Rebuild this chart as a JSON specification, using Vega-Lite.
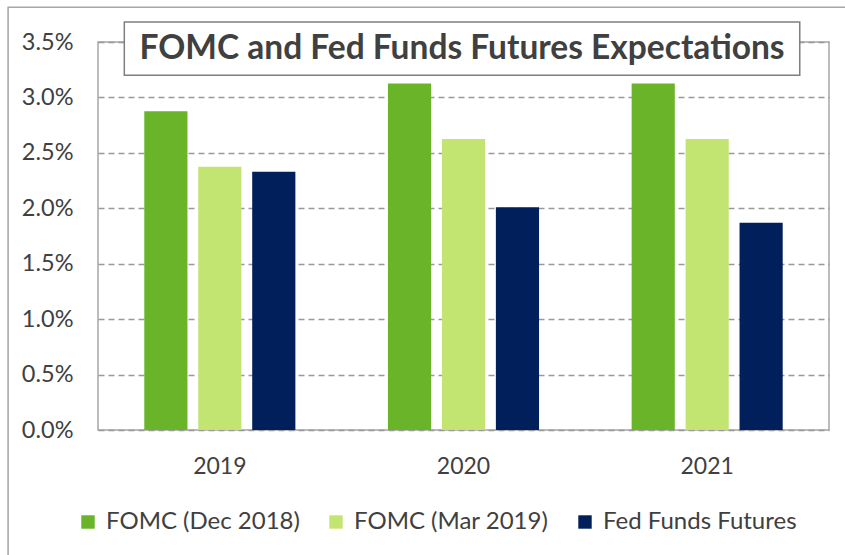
{
  "$schema": "https://vega.github.io/schema/vega-lite/v6.json",
  "width": 731,
  "height": 388,
  "autosize": "none",
  "padding": {"left": 98, "top": 42, "right": 16, "bottom": 125},
  "background": "white",
  "config": {
    "font": "Lato",
    "view": {"stroke": "#a6a6a6", "strokeWidth": 1.5}
  },
  "datasets": {
    "rates": [
      {"year": "2019", "series": "FOMC (Dec 2018)", "rate": 2.875},
      {"year": "2019", "series": "FOMC (Mar 2019)", "rate": 2.375},
      {"year": "2019", "series": "Fed Funds Futures", "rate": 2.33},
      {"year": "2020", "series": "FOMC (Dec 2018)", "rate": 3.125},
      {"year": "2020", "series": "FOMC (Mar 2019)", "rate": 2.625},
      {"year": "2020", "series": "Fed Funds Futures", "rate": 2.01},
      {"year": "2021", "series": "FOMC (Dec 2018)", "rate": 3.125},
      {"year": "2021", "series": "FOMC (Mar 2019)", "rate": 2.625},
      {"year": "2021", "series": "Fed Funds Futures", "rate": 1.87}
    ],
    "titleRow": [{"title": "FOMC and Fed Funds Futures Expectations"}]
  },
  "layer": [
    {
      "data": {"name": "rates"},
      "mark": {"type": "bar"},
      "encoding": {
        "x": {
          "field": "year",
          "type": "nominal",
          "scale": {"paddingInner": 0.38, "paddingOuter": 0.19},
          "axis": {
            "title": null,
            "labelAngle": 0,
            "ticks": false,
            "domain": false,
            "grid": false,
            "labelFontSize": 23,
            "labelColor": "#404040",
            "labelPadding": 25
          }
        },
        "xOffset": {
          "field": "series",
          "type": "nominal",
          "sort": ["FOMC (Dec 2018)", "FOMC (Mar 2019)", "Fed Funds Futures"],
          "scale": {"paddingInner": 0.2, "paddingOuter": 0}
        },
        "y": {
          "field": "rate",
          "type": "quantitative",
          "scale": {"domain": [0, 3.5], "nice": false},
          "axis": {
            "title": null,
            "values": [0, 0.5, 1, 1.5, 2, 2.5, 3, 3.5],
            "labelExpr": "format(datum.value, '.1f') + '%'",
            "ticks": false,
            "domain": false,
            "labelFontSize": 23.5,
            "labelColor": "#404040",
            "labelPadding": 25,
            "gridColor": "#999999",
            "gridDash": [6, 4],
            "gridWidth": 1.5
          }
        },
        "color": {
          "field": "series",
          "type": "nominal",
          "scale": {
            "domain": ["FOMC (Dec 2018)", "FOMC (Mar 2019)", "Fed Funds Futures"],
            "range": ["#6AB42A", "#C2E572", "#001F5B"]
          },
          "legend": {
            "title": null,
            "orient": "none",
            "direction": "horizontal",
            "legendX": -22,
            "legendY": 468,
            "symbolType": "square",
            "symbolSize": 180,
            "symbolStrokeWidth": 0,
            "labelFontSize": 24,
            "labelLimit": 400,
            "labelColor": "#404040",
            "labelOffset": 6,
            "columnPadding": 24
          }
        }
      }
    },
    {
      "data": {"name": "titleRow"},
      "layer": [
        {
          "mark": {"type": "rect", "fill": null, "stroke": "#a6a6a6", "strokeWidth": 1.5},
          "encoding": {
            "x": {"datum": -0.123, "type": "quantitative", "scale": {"domain": [0, 1], "nice": false, "zero": false}, "axis": null},
            "x2": {"datum": 1.2},
            "y": {"datum": 3.814, "type": "quantitative"},
            "y2": {"datum": -2}
          }
        },
        {
          "mark": {"type": "rect", "fill": "white", "stroke": "#7f7f7f", "strokeWidth": 1.5},
          "encoding": {
            "x": {"datum": 0.036, "type": "quantitative", "scale": {"domain": [0, 1], "nice": false, "zero": false}, "axis": null},
            "x2": {"datum": 0.96},
            "y": {"datum": 3.68, "type": "quantitative"},
            "y2": {"datum": 3.2}
          }
        },
        {
          "mark": {"type": "text", "fontSize": 33.5, "fontWeight": "bold", "color": "#404040", "baseline": "middle", "align": "center"},
          "encoding": {
            "x": {"datum": 0.498, "type": "quantitative", "scale": {"domain": [0, 1], "nice": false, "zero": false}, "axis": null},
            "y": {"datum": 3.44, "type": "quantitative"},
            "text": {"field": "title"}
          }
        }
      ]
    }
  ],
  "resolve": {"scale": {"x": "independent"}}
}
